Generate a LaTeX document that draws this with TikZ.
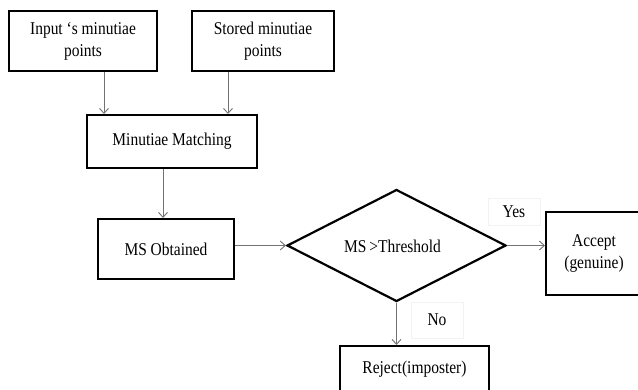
\documentclass[tikz,border=0pt]{standalone}
\usepackage{fontspec}
\setmainfont{Liberation Serif}[FakeStretch=0.86]
\usetikzlibrary{shapes.geometric,arrows.meta}
\begin{document}
\begin{tikzpicture}[x=1pt,y=-1pt,
  every node/.style={font=\fontsize{18}{22}\selectfont, align=center, inner sep=0pt},
  boxnode/.style={draw=black, line width=2pt, rectangle},
  decision/.style={draw=black, line width=2.2pt, diamond, minimum width=219pt, minimum height=112pt},
  arr/.style={draw=black!55, line width=0.9pt, -{Straight Barb[length=5pt,width=9pt]}},
  lbl/.style={draw=black!5, line width=0.5pt}]
\useasboundingbox (0,0) rectangle (638,389);
\fill[white] (0,0) rectangle (638,389);
\node[boxnode, minimum width=148pt, minimum height=60pt] (in) at (83,41) {Input ‘s minutiae\\points};
\node[boxnode, minimum width=142pt, minimum height=60pt] (st) at (263,41) {Stored minutiae\\points};
\node[boxnode, minimum width=170pt, minimum height=53pt] (mm) at (172,141.5) {Minutiae Matching};
\node[boxnode, minimum width=136pt, minimum height=60pt] (ms) at (166,249) {MS Obtained};
\node[decision] (dec) at (396.5,245.5) {};
\node at (392.5,246) {MS\,>Threshold};
\node[boxnode, minimum width=96pt, minimum height=83pt] (acc) at (594,253.5) {Accept\\(genuine)};
\node[boxnode, minimum width=149pt, minimum height=47pt] (rej) at (414.5,369.5) {Reject(imposter)};
\node[lbl, minimum width=52pt, minimum height=27pt] (yes) at (514,211.5) {Yes};
\node[lbl, minimum width=52pt, minimum height=36pt] (no) at (437,320) {No};
\draw[arr] ([xshift=21pt]in.south) -- ([xshift=21pt]in.south |- mm.north);
\draw[arr] ([xshift=-35pt]st.south) -- ([xshift=-35pt]st.south |- mm.north);
\draw[arr] ([xshift=-9pt]mm.south) -- ([xshift=-9pt]mm.south |- ms.north);
\draw[arr] (ms.east |- dec.west) -- (dec.west);
\draw[arr] (dec.east) -- (dec.east -| acc.west);
\draw[arr] (dec.south) -- (dec.south |- rej.north);
\end{tikzpicture}
\end{document}
